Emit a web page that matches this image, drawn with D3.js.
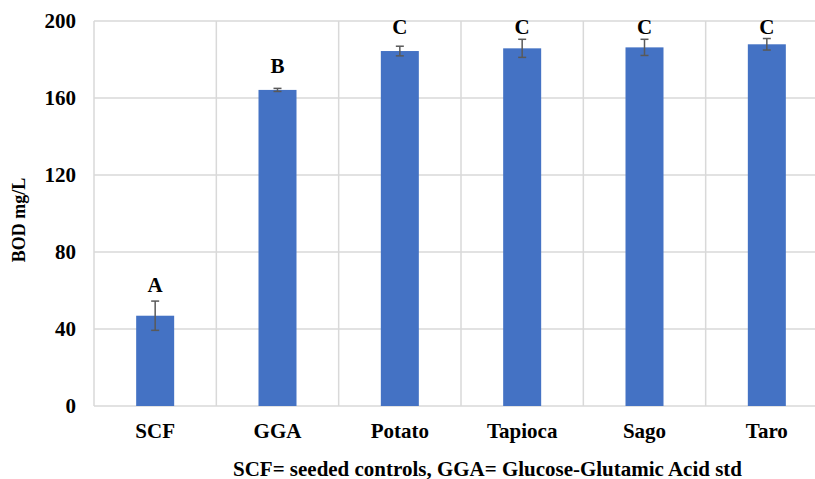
<!DOCTYPE html>
<html><head><meta charset="utf-8">
<script src="https://cdn.jsdelivr.net/npm/d3@7"></script>
<style>body{margin:0;background:#fff;}svg{display:block;font-family:"Liberation Serif","Times New Roman",serif;font-weight:bold;}</style>
</head><body>
<svg id="c" width="815" height="479"></svg>
<script>
const categories = ["SCF","GGA","Potato","Tapioca","Sago","Taro"];
const values = [46.9, 164.2, 184.4, 185.8, 186.3, 187.9];
const errors = [7.6, 0.8, 2.5, 4.7, 4.2, 3.0];
const letters = ["A","B","C","C","C","C"];
const letterPos = [59, 173, 193, 193, 193, 193];
const yTicks = [0,40,80,120,160,200];
const yTitle = "BOD mg/L";
const footnote = "SCF= seeded controls, GGA= Glucose-Glutamic Acid std";

const svg = d3.select("#c");
const L = 94, R = 828, T = 21, B = 406;
const x = d3.scaleBand().domain(categories).range([L, R]).paddingInner(0).paddingOuter(0);
const y = d3.scaleLinear().domain([0,200]).range([B, T]);
const grid = "#d9d9d9";
const FF = "'Liberation Serif', 'Times New Roman', serif";

svg.append("g").selectAll("line").data(yTicks).join("line")
  .attr("x1", L).attr("x2", R).attr("y1", d=>y(d)).attr("y2", d=>y(d))
  .attr("stroke", grid).attr("stroke-width", 1.5);
svg.append("g").selectAll("line").data(categories).join("line")
  .attr("x1", d=>x(d)).attr("x2", d=>x(d)).attr("y1", T).attr("y2", B)
  .attr("stroke", grid).attr("stroke-width", 1.5);

const yAxis = d3.axisLeft(y).tickValues(yTicks).tickSize(0).tickPadding(18).tickFormat(d3.format("d"));
const ga = svg.append("g").attr("transform", `translate(${L},0)`).call(yAxis);
ga.select(".domain").remove();
ga.attr("font-family", FF);
ga.selectAll("text").attr("font-size", 21).attr("font-family", FF).attr("font-weight","bold").attr("fill","#000");

const xAxis = d3.axisBottom(x).tickSize(0).tickPadding(17);
const gx = svg.append("g").attr("transform", `translate(0,${B})`).call(xAxis);
gx.select(".domain").remove();
gx.attr("font-family", FF);
gx.selectAll("text").attr("font-size", 21).attr("font-family", FF).attr("font-weight","bold").attr("fill","#000");

const bw = 38;
svg.append("g").selectAll("rect").data(categories).join("rect")
  .attr("x", d=>x(d)+x.bandwidth()/2-bw/2).attr("width", bw)
  .attr("y", (d,i)=>y(values[i])).attr("height", (d,i)=>B-y(values[i]))
  .attr("fill", "#4472C4");

const eg = svg.append("g").attr("stroke", "#595959").attr("stroke-width", 1.5);
categories.forEach((c,i)=>{
  const cx = x(c)+x.bandwidth()/2;
  const y1 = y(values[i]+errors[i]), y2 = y(values[i]-errors[i]);
  eg.append("line").attr("x1",cx).attr("x2",cx).attr("y1",y1).attr("y2",y2);
  eg.append("line").attr("x1",cx-4).attr("x2",cx+4).attr("y1",y1).attr("y2",y1);
  eg.append("line").attr("x1",cx-4).attr("x2",cx+4).attr("y1",y2).attr("y2",y2);
});

svg.append("g").selectAll("text").data(categories).join("text")
  .attr("x", d=>x(d)+x.bandwidth()/2).attr("y", (d,i)=>y(letterPos[i]))
  .attr("text-anchor","middle").attr("font-size", 21).attr("font-family", FF).attr("fill","#000")
  .text((d,i)=>letters[i]);

svg.append("text").attr("transform","translate(25,220) rotate(-90)")
  .attr("text-anchor","middle").attr("font-size",18).attr("font-family", FF).attr("fill","#000").text(yTitle);

svg.append("text").attr("x", 233).attr("y", 476).attr("font-size",20).attr("font-family", FF)
  .attr("textLength", 509).attr("lengthAdjust","spacingAndGlyphs").attr("fill","#000").text(footnote);
</script>
</body></html>
